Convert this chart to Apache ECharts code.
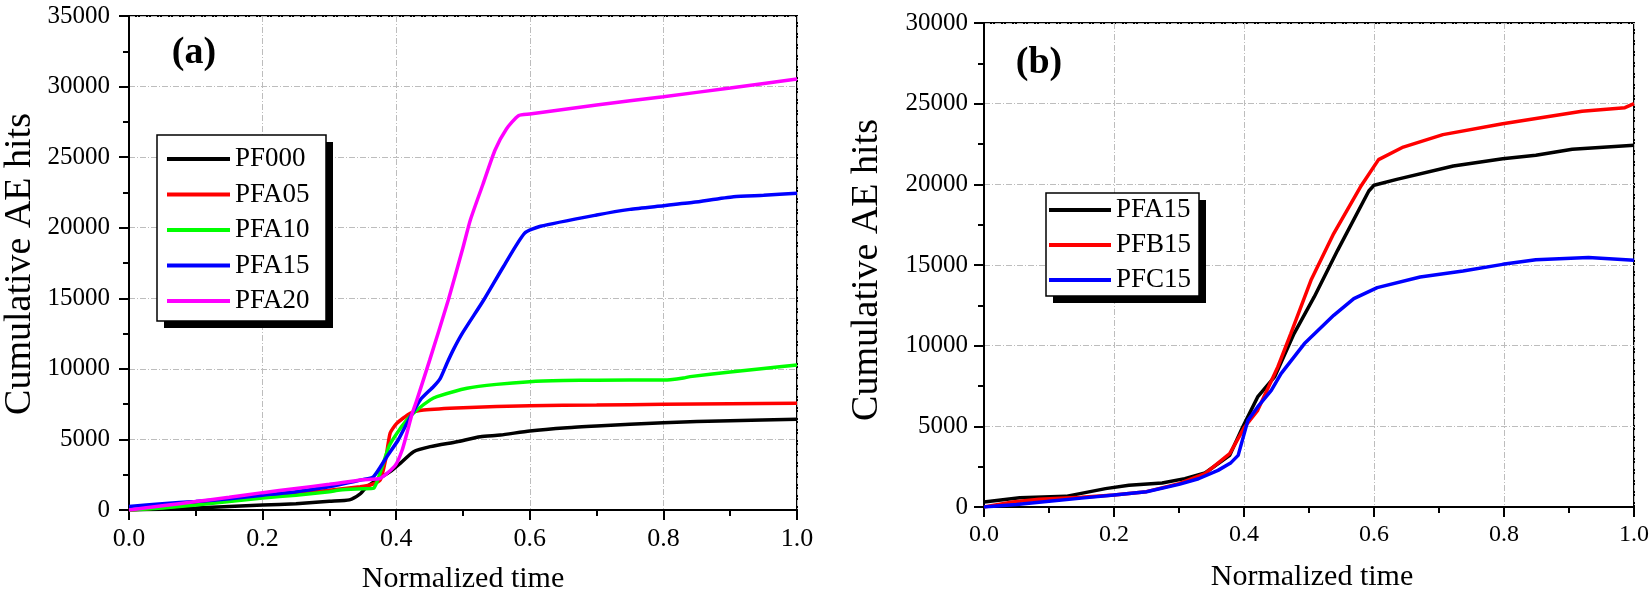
<!DOCTYPE html>
<html>
<head>
<meta charset="utf-8">
<script src="https://cdn.jsdelivr.net/npm/echarts@6/dist/echarts.min.js"></script>
<style>
html,body{margin:0;padding:0;background:#fff;}
#c{width:1652px;height:599px;}
</style>
</head>
<body>
<div id="c"></div>
<script>
// ---------- DATA: panel (a) ----------
const pf000X = [0, 0.05, 0.1, 0.15, 0.2, 0.25, 0.3, 0.33, 0.345, 0.356, 0.371, 0.391, 0.406, 0.426, 0.451, 0.491, 0.526, 0.556, 0.6, 0.656, 0.7, 0.8, 0.9, 1.0];
const pf000Y = [0, 60, 150, 250, 350, 450, 620, 720, 1100, 1650, 2125, 2715, 3300, 4130, 4490, 4840, 5190, 5310, 5600, 5830, 5950, 6190, 6330, 6430];

const pfa05X = [0, 0.05, 0.1, 0.15, 0.2, 0.25, 0.3, 0.346, 0.361, 0.376, 0.384, 0.391, 0.401, 0.421, 0.441, 0.5, 0.6, 0.7, 0.8, 0.9, 1.0];
const pfa05Y = [0, 170, 400, 650, 950, 1150, 1400, 1650, 1770, 2125, 3540, 5450, 6140, 6850, 7085, 7250, 7390, 7440, 7490, 7530, 7560];

const pfa10X = [0, 0.05, 0.1, 0.15, 0.2, 0.25, 0.3, 0.316, 0.35, 0.366, 0.379, 0.389, 0.401, 0.416, 0.431, 0.451, 0.461, 0.506, 0.55, 0.6, 0.65, 0.7, 0.8, 0.81, 0.83, 0.84, 0.9, 0.95, 1.0];
const pfa10Y = [0, 150, 350, 600, 850, 1050, 1300, 1420, 1500, 1540, 3070, 4490, 5430, 6380, 7085, 7800, 8030, 8620, 8900, 9090, 9170, 9200, 9210, 9230, 9350, 9450, 9780, 10030, 10270];

const pfa15aX = [0, 0.05, 0.1, 0.15, 0.2, 0.25, 0.3, 0.316, 0.35, 0.366, 0.386, 0.403, 0.416, 0.436, 0.456, 0.466, 0.476, 0.486, 0.5, 0.531, 0.56, 0.592, 0.616, 0.7, 0.75, 0.8, 0.845, 0.905, 0.95, 1.0];
const pfa15aY = [250, 450, 600, 800, 1050, 1300, 1650, 1800, 2150, 2360, 3780, 4960, 6140, 7800, 8750, 9330, 10400, 11400, 12600, 14880, 17200, 19600, 20100, 20900, 21300, 21560, 21800, 22200, 22300, 22440];

const pfa20X = [0, 0.05, 0.1, 0.15, 0.2, 0.25, 0.3, 0.35, 0.376, 0.399, 0.409, 0.416, 0.424, 0.431, 0.45, 0.478, 0.5, 0.511, 0.53, 0.548, 0.565, 0.583, 0.6, 0.7, 0.8, 0.9, 1.0];
const pfa20Y = [0, 300, 600, 900, 1230, 1530, 1820, 2150, 2240, 3190, 4250, 5430, 6850, 7800, 10600, 14880, 18600, 20547, 23100, 25506, 27000, 27935, 28050, 28700, 29283, 29900, 30536];

// ---------- DATA: panel (b) ----------
const pfa15bX = [0, 0.055, 0.126, 0.187, 0.223, 0.274, 0.309, 0.34, 0.378, 0.398, 0.421, 0.447, 0.477, 0.508, 0.544, 0.592, 0.6, 0.635, 0.722, 0.798, 0.849, 0.905, 1.0];
const pfa15bY = [310, 580, 660, 1140, 1345, 1490, 1760, 2110, 3200, 4960, 6820, 8060, 10750, 13020, 15910, 19590, 19940, 20310, 21140, 21590, 21800, 22170, 22420];

const pfb15X = [0, 0.044, 0.085, 0.15, 0.2, 0.25, 0.3, 0.34, 0.378, 0.401, 0.421, 0.452, 0.472, 0.503, 0.538, 0.579, 0.607, 0.645, 0.706, 0.798, 0.92, 0.986, 1.0];
const pfb15Y = [0, 310, 480, 600, 750, 950, 1450, 2070, 3310, 4960, 5990, 8680, 10750, 14050, 16950, 19830, 21530, 22310, 23080, 23760, 24530, 24750, 25000];

const pfc15X = [0, 0.05, 0.1, 0.15, 0.2, 0.25, 0.3, 0.33, 0.36, 0.38, 0.391, 0.406, 0.421, 0.442, 0.457, 0.493, 0.538, 0.569, 0.605, 0.671, 0.737, 0.798, 0.849, 0.93, 1.0];
const pfc15Y = [0, 150, 350, 550, 750, 950, 1400, 1750, 2270, 2750, 3200, 5370, 6200, 7230, 8270, 10130, 11880, 12920, 13600, 14260, 14630, 15040, 15330, 15460, 15290];

const namesA = ['PF000', 'PFA05', 'PFA10', 'PFA15', 'PFA20'];
const namesB = ['PFA15', 'PFB15', 'PFC15'];

const FONT = "'Liberation Serif','Times New Roman',serif";
const pairs = (xs, ys) => xs.map((x, i) => [x, ys[i]]);

const chart = echarts.init(document.getElementById('c'), null, {renderer: 'canvas'});

function xAxisCfg(gi, fs) {
  return {
    type: 'value', gridIndex: gi, min: 0, max: 1, interval: 0.2,
    axisLine: {show: true, lineStyle: {color: '#000', width: 2}},
    axisTick: {show: true, inside: false, length: 10, lineStyle: {color: '#000', width: 2}},
    minorTick: {show: true, splitNumber: 2, length: 6, lineStyle: {color: '#000', width: 2}},
    axisLabel: {color: '#000', fontFamily: FONT, fontSize: fs, margin: 16, formatter: v => v.toFixed(1)},
    splitLine: {show: true, lineStyle: {color: '#bdbdbd', width: 1, type: [6, 2, 1, 2]}}
  };
}
function yAxisCfg(gi, max, fs, margin) {
  return {
    type: 'value', gridIndex: gi, min: 0, max: max, interval: 5000,
    axisLine: {show: true, lineStyle: {color: '#000', width: 2}},
    axisTick: {show: true, inside: false, length: 10, lineStyle: {color: '#000', width: 2}},
    minorTick: {show: true, splitNumber: 2, length: 6, lineStyle: {color: '#000', width: 2}},
    axisLabel: {color: '#000', fontFamily: FONT, fontSize: fs, margin: margin, formatter: v => String(Math.round(v))},
    splitLine: {show: true, lineStyle: {color: '#bdbdbd', width: 1, type: [6, 2, 1, 2]}}
  };
}

const colorsA = ['#000000', '#ff0000', '#00ff00', '#0000ff', '#ff00ff'];
const colorsB = ['#000000', '#ff0000', '#0000ff'];
const dataA = [pairs(pf000X, pf000Y), pairs(pfa05X, pfa05Y), pairs(pfa10X, pfa10Y), pairs(pfa15aX, pfa15aY), pairs(pfa20X, pfa20Y)];
const dataB = [pairs(pfa15bX, pfa15bY), pairs(pfb15X, pfb15Y), pairs(pfc15X, pfc15Y)];

const series = [];
namesA.forEach((n, i) => series.push({
  id: 'a' + i, name: n, type: 'line', xAxisIndex: 0, yAxisIndex: 0,
  data: dataA[i], showSymbol: false, symbol: 'none', smooth: 0.2,
  lineStyle: {color: colorsA[i], width: 3.5}, itemStyle: {color: colorsA[i]}, z: 3 + i
}));
namesB.forEach((n, i) => series.push({
  id: 'b' + i, name: n, type: 'line', xAxisIndex: 1, yAxisIndex: 1,
  data: dataB[i], showSymbol: false, symbol: 'none',
  lineStyle: {color: colorsB[i], width: 3.5}, itemStyle: {color: colorsB[i]}, z: 3 + i
}));

const legendCommon = {
  orient: 'vertical', icon: 'rect', itemHeight: 4, selectedMode: false, z: 30, padding: 0,
  backgroundColor: 'transparent', borderWidth: 0,
  textStyle: {color: '#000', fontFamily: FONT, fontSize: 27, lineHeight: 30}
};

function boxWithShadow(x, y, w, h) {
  return [
    {type: 'rect', z: 20, shape: {x: x + 7, y: y + 7, width: w, height: h}, style: {fill: '#000'}},
    {type: 'rect', z: 21, shape: {x: x, y: y, width: w, height: h}, style: {fill: '#fff', stroke: '#000', lineWidth: 1.5}}
  ];
}

const option = {
  animation: false,
  backgroundColor: '#fff',
  grid: [
    {left: 129, top: 16, width: 668, height: 494, show: true, borderColor: '#000', borderWidth: 2, backgroundColor: 'transparent'},
    {left: 984, top: 23, width: 655, height: 484, show: true, borderColor: '#000', borderWidth: 2, backgroundColor: 'transparent'}
  ],
  xAxis: [xAxisCfg(0, 26), xAxisCfg(1, 24)],
  yAxis: [yAxisCfg(0, 35000, 25, 19), yAxisCfg(1, 30000, 25, 16)],
  legend: [
    Object.assign({}, legendCommon, {
      left: 167, top: 144, itemWidth: 63, itemGap: 5.5,
      data: namesA.map((n, i) => ({name: n, itemStyle: {color: colorsA[i]}}))
    }),
    Object.assign({}, legendCommon, {
      left: 1049, top: 195, itemWidth: 62, itemGap: 5,
      data: namesB.map((n, i) => ({name: n, itemStyle: {color: colorsB[i]}}))
    })
  ],
  graphic: [].concat(
    boxWithShadow(157, 135, 169, 186),
    boxWithShadow(1046, 193, 153, 103),
    [
      {type: 'text', x: 194, y: 53, style: {text: '(a)', font: "bold 38px " + FONT, fill: '#000', align: 'center', verticalAlign: 'middle'}},
      {type: 'text', x: 1039, y: 63, style: {text: '(b)', font: "bold 38px " + FONT, fill: '#000', align: 'center', verticalAlign: 'middle'}},
      {type: 'text', x: 463, y: 579, style: {text: 'Normalized time', font: "30px " + FONT, fill: '#000', align: 'center', verticalAlign: 'middle'}},
      {type: 'text', x: 1312, y: 577, style: {text: 'Normalized time', font: "30px " + FONT, fill: '#000', align: 'center', verticalAlign: 'middle'}},
      {type: 'text', x: 20, y: 264, rotation: Math.PI / 2, style: {text: 'Cumulative AE hits', font: "38px " + FONT, fill: '#000', align: 'center', verticalAlign: 'middle'}},
      {type: 'text', x: 867, y: 270, rotation: Math.PI / 2, style: {text: 'Cumulative AE hits', font: "38px " + FONT, fill: '#000', align: 'center', verticalAlign: 'middle'}}
    ]
  ),
  series: series
};
chart.setOption(option);
</script>
</body>
</html>
